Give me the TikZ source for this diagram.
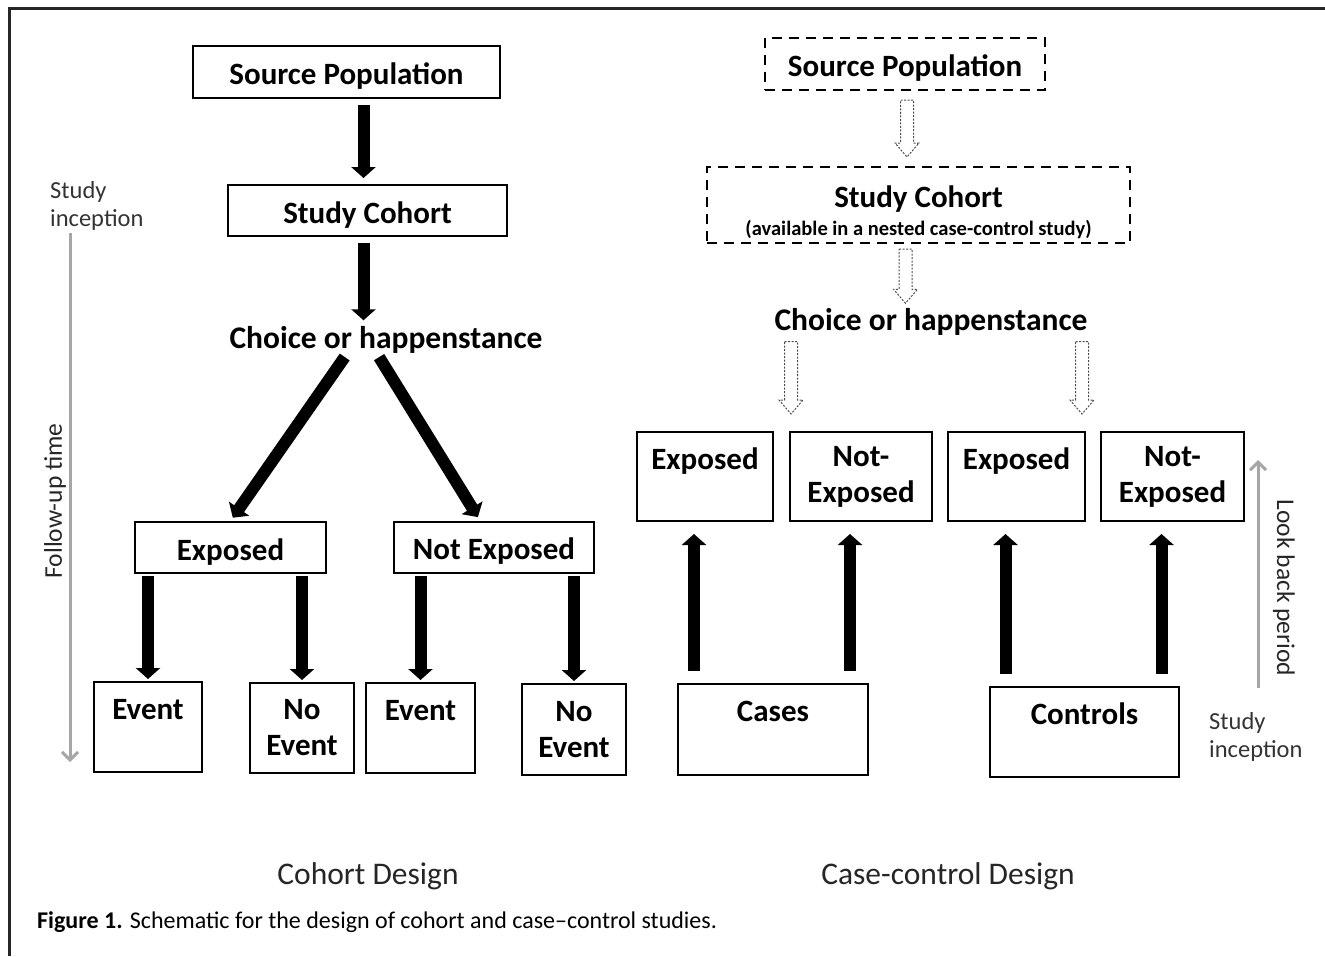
\documentclass[tikz,border=0pt]{standalone}
\usepackage{fontspec}
\setmainfont{Carlito}
\usetikzlibrary{arrows.meta,calc,positioning}

\tikzset{
  box/.style={draw, line width=2pt, align=center, inner sep=0pt,
    font=\bfseries\fontsize{31}{36}\selectfont,
    execute at begin node={\rule{0pt}{30pt}}},
  dbox/.style={box, dash pattern=on 10pt off 7pt},
  lbl/.style={inner sep=0pt, font=\bfseries\fontsize{31.5}{36}\selectfont},
  note/.style={inner sep=0pt, align=left, text=black!80,
    font=\fontsize{24.5}{28}\selectfont},
  side/.style={inner sep=0pt, text=black!85, font=\fontsize{25.5}{28}\selectfont},
  blk/.style={line width=12pt, -{Triangle[length=11pt,width=24pt]},
    shorten <=6pt, shorten >=6pt},
  hol/.style={line width=1pt, dash pattern=on 2pt off 1.5pt, black!70},
  tline/.style={draw=black!35, line width=3pt,
    -{Straight Barb[length=8pt,width=16pt]}}
}

% hollow dashed arrow, x of #1, from y of #1 down to y of #2
\newcommand{\hollow}[2]{%
  \draw[hol] let \p1=(#1), \p2=(#2) in
    (\x1-6.5pt,\y1) -- (\x1+6.5pt,\y1) -- (\x1+6.5pt,\y2+14pt)
    -- (\x1+12pt,\y2+14pt) -- (\x1,\y2) -- (\x1-12pt,\y2+14pt)
    -- (\x1-6.5pt,\y2+14pt) -- cycle;}

\begin{document}
\begin{tikzpicture}[x=1pt, y=-1pt]

  \useasboundingbox (0,0) rectangle (1325,956);
  \draw[line width=3pt, black!85] (9,956) -- (9,8) -- (1325,8);

  % Cohort design
  \node[box, minimum width=307pt, minimum height=52pt] (src) at (346.5,72) {Source Population};
  \node[box, minimum width=279pt, minimum height=51pt] (coh) at (367.5,210.5) {Study Cohort};
  \node[lbl] (choice) at (386,340) {Choice or happenstance};
  \node[box, minimum width=191pt, minimum height=51pt] (exp) at (230.5,547.5) {Exposed};
  \node[box, minimum width=200pt, minimum height=51pt] (nexp) at (494,547) {Not Exposed};
  \node[box, minimum width=108pt, minimum height=90pt] (ev_1) at (148,727) {Event\\\mbox{}};
  \node[box, minimum width=104pt, minimum height=90pt] (nev_1) at (302,728) {No\\Event};
  \node[box, minimum width=109pt, minimum height=90pt] (ev_2) at (420.5,728) {Event\\\mbox{}};
  \node[box, minimum width=104pt, minimum height=91pt] (nev_2) at (574,729.5) {No\\Event};

  \node[note, anchor=west] (inc) at (50,206) {Study\\inception};
  \node[side, rotate=90] (fup) at (55,501) {Follow-up time};
  \coordinate (t_a) at (70,233);
  \coordinate (t_b) at (70,762);

  % Case-control design
  \node[dbox, minimum width=280pt, minimum height=52pt] (src_r) at (905,64) {Source Population};
  \node[dbox, minimum width=423pt, minimum height=76pt] (coh_r) at (918.5,205)
    {\rule{0pt}{36pt}Study Cohort\\[-8pt]{\fontsize{20.5}{22}\selectfont(available in a nested case-control study)}};
  \node[lbl] (choice_r) at (931,322) {Choice or happenstance};
  \node[box, minimum width=136pt, minimum height=89pt] (e_1) at (705,476.5) {Exposed\\\mbox{}};
  \node[box, minimum width=142pt, minimum height=89pt] (n_1) at (861,476.5) {Not-\\Exposed};
  \node[box, minimum width=137pt, minimum height=89pt] (e_2) at (1016.5,476.5) {Exposed\\\mbox{}};
  \node[box, minimum width=143pt, minimum height=89pt] (n_2) at (1172.5,476.5) {Not-\\Exposed};
  \node[box, minimum width=190pt, minimum height=91pt] (cases) at (773,729.5) {Cases\\\mbox{}};
  \node[box, minimum width=189pt, minimum height=90pt] (ctrl) at (1084.5,732) {Controls\\\mbox{}};

  \node[note, anchor=west] (inc_r) at (1209,737) {Study\\inception};
  \node[side, rotate=-90] (look) at (1284,588) {Look back period};
  \coordinate (l_a) at (1258,688);
  \coordinate (l_b) at (1258,460);

  \node[inner sep=0pt, font=\fontsize{31.5}{34}\selectfont, text=black!85] (cap_l) at (368,876) {Cohort Design};
  \node[inner sep=0pt, font=\fontsize{31.5}{34}\selectfont, text=black!85] (cap_r) at (948,876) {Case-control Design};
  \node[inner sep=0pt, anchor=west, font=\fontsize{24}{28}\selectfont] (fig) at (37,922)
    {\textbf{Figure 1.} Schematic for the design of cohort and case–control studies.};

  % Connect the nodes
  \draw[blk] ([xshift=-4pt]src.south -| coh.north) -- ([xshift=-4pt]coh.north);
  \draw[blk] ([xshift=-4pt]coh.south) -- ([xshift=-4pt]coh.south |- choice.north);
  \draw[blk, shorten <=4pt, shorten >=4pt] ([xshift=-39pt]choice.south) -- (exp.north);
  \draw[blk, shorten <=4pt, shorten >=4pt] ([xshift=-9pt]choice.south) -- ([xshift=-14pt]nexp.north);
  \draw[blk, shorten <=2pt, shorten >=2pt] (exp.south -| ev_1.north) -- (ev_1.north);
  \draw[blk, shorten <=2pt, shorten >=2pt] (exp.south -| nev_1.north) -- (nev_1.north);
  \draw[blk, shorten <=2pt, shorten >=2pt] (nexp.south -| ev_2.north) -- (ev_2.north);
  \draw[blk, shorten <=2pt, shorten >=2pt] (nexp.south -| nev_2.north) -- (nev_2.north);
  \draw[tline] (t_a) -- (t_b);

  \hollow{$(src_r.south)+(2,9)$}{$(coh_r.north)+(0,-9)$}
  \hollow{$(coh_r.south)+(-13,5)$}{$(choice_r.north)+(0,-5)$}
  \coordinate (h_1) at ($(e_1.north)+(86,-17)$);
  \coordinate (h_2) at ($(e_2.north)+(65.5,-17)$);
  \hollow{$(h_1 |- choice_r.south)+(0,6)$}{h_1}
  \hollow{$(h_2 |- choice_r.south)+(0,6)$}{h_2}

  \foreach \b/\t in {cases/e_1, cases/n_1, ctrl/e_2, ctrl/n_2}{
    \coordinate (u) at ($(\t.south)+(-11,0)$);
    \draw[blk, shorten <=12pt, shorten >=12pt] (u |- \b.north) -- (u);
  }
  \draw[tline] (l_a) -- (l_b);

\end{tikzpicture}
\end{document}
